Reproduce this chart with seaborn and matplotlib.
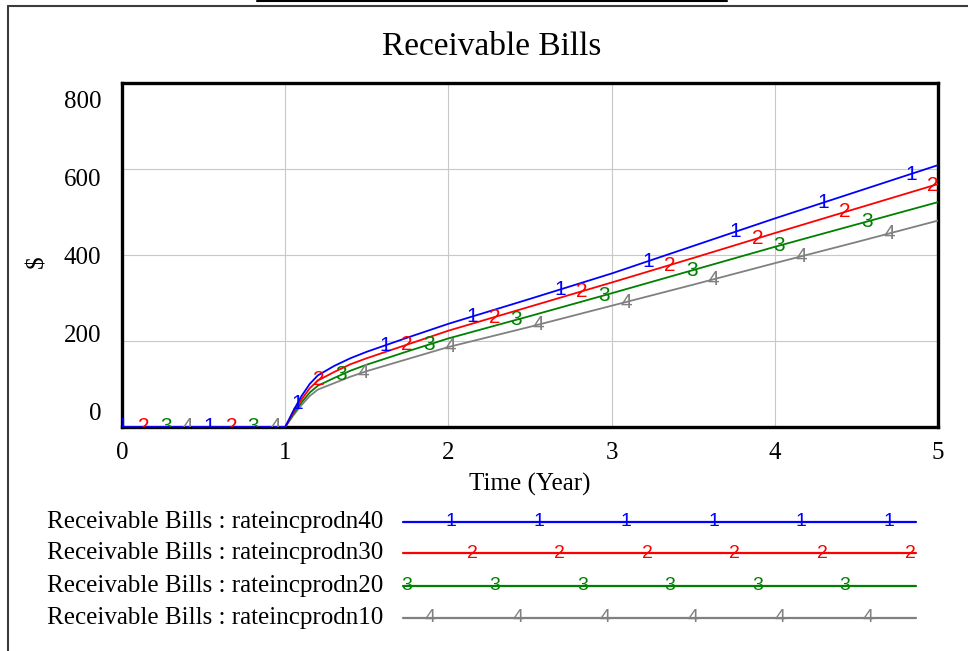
import numpy as np
import pandas as pd
import seaborn as sns
import matplotlib.pyplot as plt
from matplotlib.lines import Line2D
from matplotlib.transforms import ScaledTranslation

# time points (years) and simulated Receivable Bills ($) for each run
times = [0, 1.0, 1.05, 1.1, 1.15, 1.2, 1.3, 1.4, 1.5, 1.75, 2, 2.5, 3, 3.5, 4, 4.5, 5]
bills_40 = [0, 0, 38, 72, 100, 120, 142, 160, 175, 208, 240, 298, 357, 421, 485, 547, 609]
bills_30 = [0, 0, 34, 64, 90, 108, 128, 146, 160, 192, 224, 280, 336, 393, 451, 508, 565]
bills_20 = [0, 0, 30, 57, 80, 96, 114, 131, 145, 176, 206, 258, 311, 365, 419, 471, 523]
bills_10 = [0, 0, 27, 51, 72, 87, 102, 117, 130, 158, 186, 233, 282, 331, 381, 430, 480]

run_names = ['rateincprodn40', 'rateincprodn30', 'rateincprodn20', 'rateincprodn10']
run_ids = ['1', '2', '3', '4']
run_colors = ['#0000ff', '#ff0000', '#008000', '#808080']
y_ticks = [0, 200, 400, 600, 800]
x_ticks = [0, 1, 2, 3, 4, 5]

series = [bills_40, bills_30, bills_20, bills_10]
df = pd.concat([pd.DataFrame({'Time': times, 'Bills': vals, 'run': rid})
                for vals, rid in zip(series, run_ids)])

sns.set_style('white')
plt.rcParams['font.family'] = ['Liberation Serif', 'DejaVu Serif']
for k in ['text.color', 'axes.labelcolor', 'xtick.color', 'ytick.color']:
    plt.rcParams[k] = 'black'

W, H = 968, 651
fig = plt.figure(figsize=(W / 100, H / 100), dpi=100)
ax = fig.add_axes([122 / W, 1 - 427 / H, 816 / W, 344 / H])

# blue drawn last so it sits on top
order = run_ids[::-1]
sns.lineplot(data=df, x='Time', y='Bills', hue='run', hue_order=order,
             palette=dict(zip(run_ids, run_colors)), estimator=None, sort=False,
             linewidth=1.3, legend=False, ax=ax, zorder=3)

# numbered markers along each line, Vensim style
step = 0.537
for i, (vals, rid, col) in enumerate(zip(series, run_ids, run_colors)):
    t = i * step / 4
    while t <= 5.0:
        ax.text(t, np.interp(t, times, vals), rid, color=col, ha='center', va='center',
                fontsize=15, family='Liberation Sans', clip_on=True, zorder=4)
        t += step

ax.set_xlim(0, 5)
ax.set_ylim(0, 800)
ax.set_xticks(x_ticks)
ax.set_yticks(y_ticks)
ax.grid(True, color='#c8c8c8', linewidth=0.8)
ax.tick_params(length=0, labelsize=18)
ax.tick_params(axis='y', pad=15)
ax.tick_params(axis='x', pad=11)
for s in ax.spines.values():
    s.set_color('black')
    s.set_linewidth(2.4)

# Vensim spreads the y labels a bit differently from the gridlines
for lab, v in zip(ax.get_yticklabels(), y_ticks):
    dy = (15 - 0.04 * v) / 100
    lab.set_transform(lab.get_transform() + ScaledTranslation(0, dy, fig.dpi_scale_trans))

ax.set_xlabel('Time (Year)', fontsize=18, labelpad=6)
ax.set_ylabel('$', fontsize=18)
ax.yaxis.set_label_coords(-74 / 816, 0.48)
fig.text(492 / W, 1 - 47 / H, 'Receivable Bills', ha='center', va='center', fontsize=24)

# legend block below the plot
rows_y = [522, 553, 586, 618]
for i, (name, rid, col, y) in enumerate(zip(run_names, run_ids, run_colors, rows_y)):
    yf = 1 - y / H
    fig.text(383 / W, yf, f'Receivable Bills : {name}', ha='right', va='center', fontsize=18)
    fig.add_artist(Line2D([403 / W, 916 / W], [yf, yf], transform=fig.transFigure,
                          color=col, linewidth=1.6))
    start = [451, 472, 407, 430][i]
    for k in range(6):
        fig.text((start + 87.6 * k) / W, yf, rid, color=col, ha='center', va='center',
                 fontsize=14, family='Liberation Sans')

# outer frame and clipped header line
fig.add_artist(Line2D([8 / W, 8 / W], [0, 1 - 5.5 / H], transform=fig.transFigure,
                      color='#3c3c3c', linewidth=1.5))
fig.add_artist(Line2D([8 / W, 1], [1 - 5.5 / H, 1 - 5.5 / H], transform=fig.transFigure,
                      color='#3c3c3c', linewidth=1.5))
fig.add_artist(Line2D([257 / W, 727 / W], [1 - 0.8 / H, 1 - 0.8 / H], transform=fig.transFigure,
                      color='black', linewidth=1.5))

fig.savefig('out.png', dpi=100)
